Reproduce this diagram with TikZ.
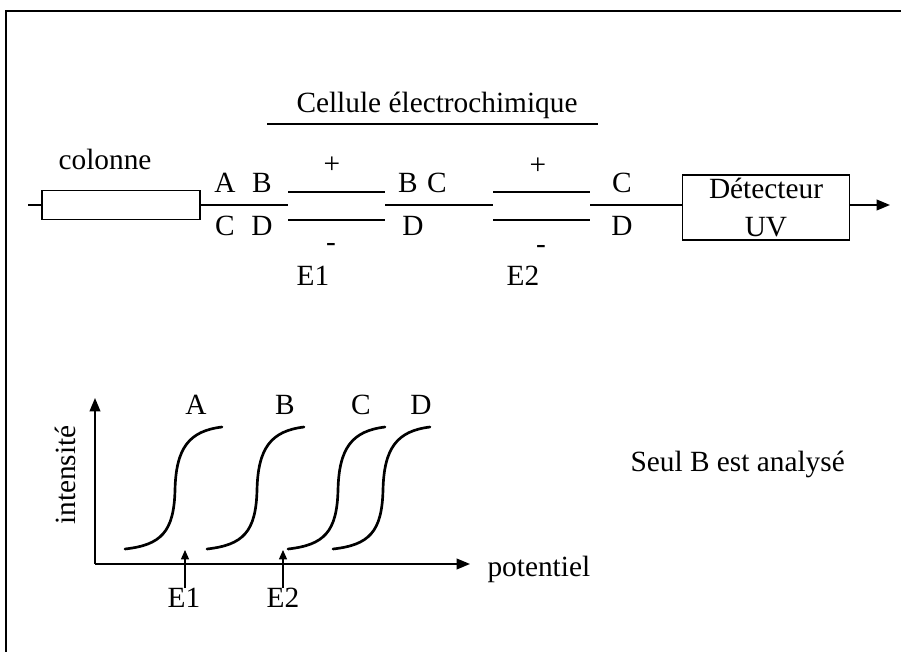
\documentclass[tikz,border=0pt]{standalone}
\usepackage{fontspec}
\setmainfont{Liberation Serif}
\usetikzlibrary{arrows.meta,positioning}

\begin{document}
\begin{tikzpicture}[x=0.75pt, y=-0.75pt,
    lbl/.style={anchor=base, inner sep=0pt, font=\fontsize{22}{28.5}\selectfont},
    sign/.style={inner sep=0pt, font=\fontsize{22}{28.5}\selectfont},
    box/.style={rectangle, draw, line width=1.3pt, inner sep=0pt},
    pipe/.style={line width=1.5pt},
    plate/.style={line width=1pt},
    wave/.style={line width=2pt, line cap=round},
    bigtip/.style={line width=1.3pt, -{Triangle[length=10pt,width=8pt]}},
    smalltip/.style={line width=1pt, -{Triangle[length=7pt,width=6pt]}},
    thick]
    \useasboundingbox (0,0) rectangle (901,652);
    % frame
    \draw[line width=0.8pt] (6,652) -- (6,11) -- (901,11);

    % column
    \coordinate (inlet) at (28,205);
    \node[box, minimum width=118.5pt, minimum height=21.75pt] (col) at (121,205) {};
    \node[lbl] (colname) at (105,170) {colonne};
    \draw[pipe] (inlet) -- (col.west);

    % cell title
    \node[lbl] (cell) at (437,113) {Cellule électrochimique};
    \coordinate (ulA) at (267,124);
    \coordinate (ulB) at (598,124);
    \draw[line width=0.9pt] (ulA) -- (ulB);

    % electrode E1
    \coordinate (p1) at (288,205);
    \coordinate (q1) at (385,205);
    \coordinate (e1ua) at (288,192); \coordinate (e1ub) at (385,192);
    \coordinate (e1la) at (288,220); \coordinate (e1lb) at (385,220);
    \draw[pipe] (col.east) -- (p1);
    \draw[plate] (e1ua) -- (e1ub);
    \draw[plate] (e1la) -- (e1lb);
    \node[sign] (plus1) at (332,165) {+};
    \node[sign] (minus1) at (331,247) {-};
    \node[lbl] (e1) at (313,286) {E1};

    % electrode E2
    \coordinate (p2) at (493,205);
    \coordinate (q2) at (590,205);
    \coordinate (e2ua) at (493,192); \coordinate (e2ub) at (590,192);
    \coordinate (e2la) at (493,220); \coordinate (e2lb) at (590,220);
    \draw[pipe] (q1) -- (p2);
    \draw[plate] (e2ua) -- (e2ub);
    \draw[plate] (e2la) -- (e2lb);
    \node[sign] (plus2) at (538,166) {+};
    \node[sign] (minus2) at (541,249) {-};
    \node[lbl] (e2) at (523,286) {E2};

    % species along the line
    \node[lbl] (sA) at (225,193) {A};
    \node[lbl] (sB) at (262,193) {B};
    \node[lbl] (sC) at (225,236) {C};
    \node[lbl] (sD) at (262,236) {D};
    \node[lbl] (sB1) at (408,193) {B};
    \node[lbl] (sC1) at (437,193) {C};
    \node[lbl] (sD1) at (413,236) {D};
    \node[lbl] (sC2) at (622,193) {C};
    \node[lbl] (sD2) at (622,236) {D};

    % detector
    \node[box, align=center, minimum width=125.25pt, minimum height=48.75pt,
          font=\fontsize{22}{28.5}\selectfont] (det) at (766,207.5) {Détecteur\\UV};
    \coordinate (outlet) at (890,205);
    \draw[pipe] (q2) -- (q2 -| det.west);
    \draw[bigtip] (det.east |- outlet) -- (outlet);

    % voltammograms
    \coordinate (orig) at (95,564);
    \coordinate (ytop) at (95,398);
    \coordinate (xend) at (470,564);
    \draw[bigtip] (orig) -- (ytop);
    \draw[bigtip] (orig) -- (xend);
    \node[lbl, rotate=90] (inty) at (75,475) {intensité};
    \node[lbl, anchor=base west] (pot) at (487,577) {potentiel};

    \foreach \x/\lx/\n in {175/196/A, 257/285/B, 338/361/C, 383/421/D} {
        \draw[wave] (\x-50,549) .. controls (\x-14,545) and (\x-1,532) .. (\x,490)
                    .. controls (\x+1,448) and (\x+14,431) .. (\x+47,427);
        \node[lbl] (w\n) at (\lx,415) {\n};
    }

    % applied potentials
    \node[lbl] (pe1) at (184,608) {E1};
    \node[lbl] (pe2) at (283,608) {E2};
    \coordinate (pe1t) at (185,550);
    \coordinate (pe2t) at (283,550);
    \draw[smalltip] (pe1.north -| pe1t) -- (pe1t);
    \draw[smalltip] (pe2.north -| pe2t) -- (pe2t);

    \node[lbl, anchor=base west] (seul) at (630,472) {Seul B est analysé};
\end{tikzpicture}
\end{document}
